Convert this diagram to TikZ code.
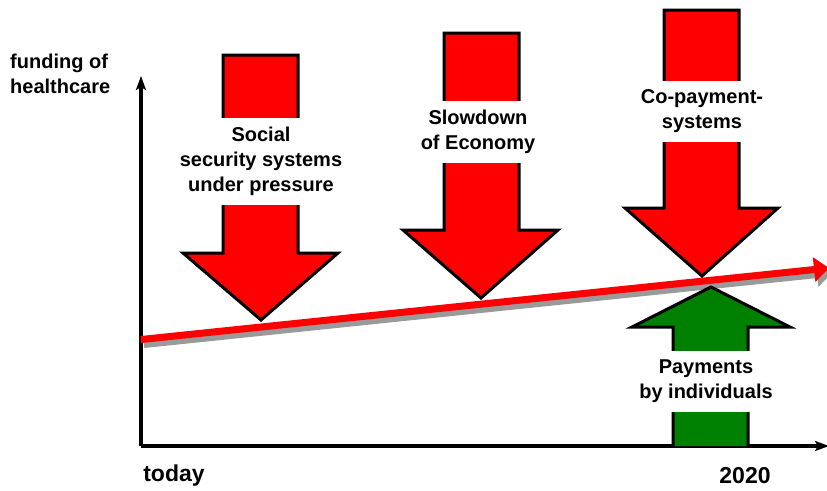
\documentclass[tikz,border=0pt]{standalone}
\usepackage{fontspec}
\setmainfont{Liberation Sans}
\usetikzlibrary{arrows.meta}
\definecolor{arrred}{HTML}{FF0000}
\definecolor{arrgreen}{HTML}{008000}
\definecolor{shadowgray}{HTML}{9A9A9A}
\tikzset{
  bigarrow/.style={draw=black, line width=3pt, miter limit=10},
  redarrow/.style={bigarrow, fill=arrred},
  greenarrow/.style={bigarrow, fill=arrgreen},
  band/.style={fill=white, inner xsep=2pt, inner ysep=0pt, align=center,
    font=\fontsize{20}{25}\selectfont\bfseries},
  lbl/.style={inner sep=0pt, font=\fontsize{20}{25}\selectfont\bfseries},
  axis/.style={line width=3.5pt, -{Stealth[length=14pt,width=10pt,inset=3pt]}},
  trend/.style={line width=7pt, -{Triangle[length=15pt,width=24pt]}}
}
\begin{document}
\begin{tikzpicture}[x=1pt,y=-1pt]
\useasboundingbox (0,0) rectangle (827,490);
% axes
\coordinate (origin) at (141,446);
\coordinate (ytop) at (141,76);
\coordinate (xend) at (829,446);
\draw[axis] (origin) -- (ytop);
\draw[axis] (origin) -- (xend);
% trend line with shadow
\coordinate (ts) at (141,339.5);
\coordinate (te) at (829,268);
\draw[trend, shadowgray] ([shift={(3,5)}]ts) -- ([shift={(3,5)}]te);
\draw[trend, arrred] (ts) -- (te);
% down arrows
\draw[redarrow] (223,55) -- (298,55) -- (298,253) -- (338,253) -- (261,320) -- (183,253) -- (223,253) -- cycle;
\draw[redarrow] (444,33) -- (519,33) -- (519,230) -- (558,230) -- (481,298) -- (403,230) -- (444,230) -- cycle;
\draw[redarrow] (664,10) -- (739,10) -- (739,208) -- (778,208) -- (702,276) -- (625,208) -- (664,208) -- cycle;
% up arrow
\draw[greenarrow] (673,446) -- (673,327) -- (632,327) -- (711,287) -- (790,327) -- (748,327) -- (748,446);
% labels on arrows
\node[band, minimum height=87pt] (social) at (261,161.5) {Social\\security systems\\under pressure};
\node[band, minimum height=62pt] (slow) at (478,132) {Slowdown\\of Economy};
\node[band, minimum height=61pt] (copay) at (702,111.5) {Co-payment-\\systems};
\node[band, minimum height=61pt] (pay) at (706,381.5) {Payments\\by individuals};
% axis labels
\node[lbl, anchor=north west, align=left] (ylabel) at (10,54) {funding of\\healthcare};
\node[lbl, font=\fontsize{23}{25}\selectfont\bfseries] (today) at (174,476) {today};
\node[lbl, font=\fontsize{23}{25}\selectfont\bfseries] (year) at (745,476) {2020};
\end{tikzpicture}
\end{document}
